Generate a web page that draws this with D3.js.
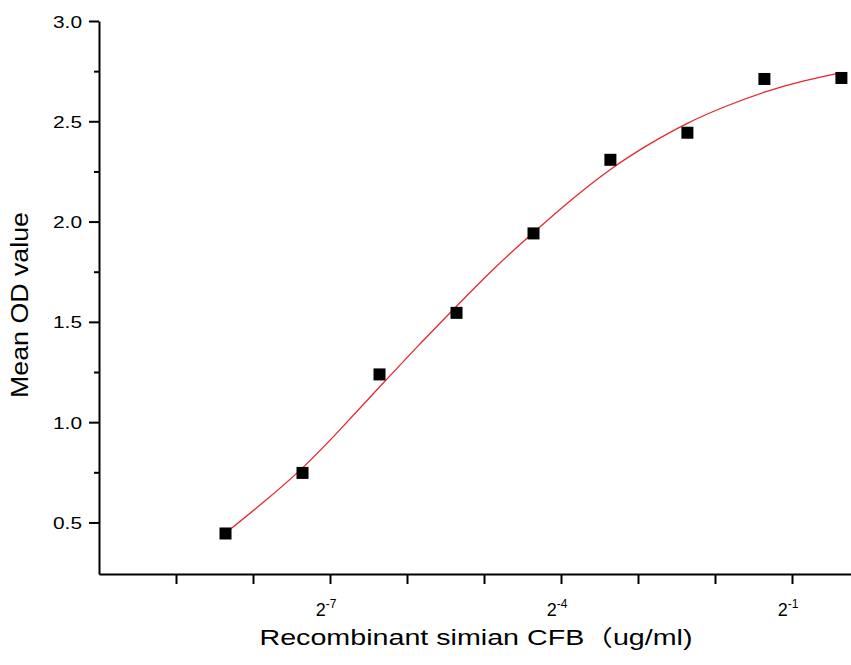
<!DOCTYPE html>
<html>
<head>
<meta charset="utf-8">
<script src="https://cdn.jsdelivr.net/npm/d3@7"></script>
<style>
  body { margin: 0; background: #fff; }
  svg { display: block; font-family: "Liberation Sans", Arial, "Noto Sans CJK SC", sans-serif; }
  .axis path, .axis line { stroke: #000; stroke-width: 2; }
</style>
</head>
<body>
<svg width="851" height="665"></svg>
<script>
// measured concentrations (ug/ml) and mean OD
const concentrations = [0.00305, 0.0061, 0.0122, 0.0244, 0.0488, 0.0975, 0.195, 0.39, 0.78];
const meanOD = [0.445, 0.747, 1.238, 1.545, 1.941, 2.308, 2.443, 2.711, 2.716];

// fitted curve
const curveConc = [0.00305, 0.00431, 0.0061, 0.00862, 0.0122, 0.0172, 0.0244, 0.0345, 0.0488,
                   0.0689, 0.0975, 0.138, 0.195, 0.276, 0.39, 0.552, 0.78];
const curveOD = [0.447, 0.603, 0.772, 0.968, 1.175, 1.378, 1.578, 1.77, 1.945,
                 2.11, 2.26, 2.385, 2.49, 2.575, 2.645, 2.70, 2.743];

const xTickExps = [-9, -8, -7, -6, -5, -4, -3, -2, -1];
const xLabelExps = [-7, -4, -1];
const yTicks = [0.5, 1.0, 1.5, 2.0, 2.5, 3.0];
const yMinorTicks = [0.75, 1.25, 1.75, 2.25, 2.75];

const svg = d3.select('svg');

const x = d3.scaleLog().base(2)
    .domain([Math.pow(2, -10), 1])
    .range([99, 869]);
const y = d3.scaleLinear()
    .domain([0.243, 3.0])
    .range([574, 21]);

// y axis
const yAxis = svg.append('g')
    .attr('class', 'axis')
    .attr('transform', 'translate(99,0)')
    .call(d3.axisLeft(y).tickValues(yTicks).tickSize(10).tickSizeOuter(0)
        .tickFormat(d3.format('.1f')));
yAxis.selectAll('text')
    .attr('x', -17)
    .attr('dy', '0.36em')
    .attr('textLength', 29)
    .attr('lengthAdjust', 'spacingAndGlyphs')
    .style('font-size', '17px')
    .attr('fill', '#000');

svg.append('g')
    .attr('class', 'axis')
    .attr('transform', 'translate(99,0)')
    .call(d3.axisLeft(y).tickValues(yMinorTicks).tickSize(5).tickFormat(''))
    .select('.domain').remove();

// x axis
svg.append('g')
    .attr('class', 'axis')
    .attr('transform', 'translate(0,574)')
    .call(d3.axisBottom(x).tickValues(xTickExps.map(e => Math.pow(2, e)))
        .tickSize(10).tickSizeOuter(0).tickFormat(''));

// x tick labels as powers of two
const xLabels = svg.append('g')
    .selectAll('text')
    .data(xLabelExps)
    .enter().append('text')
    .attr('x', d => x(Math.pow(2, d)) - 4)
    .attr('y', 616)
    .attr('text-anchor', 'middle');
xLabels.append('tspan')
    .style('font-size', '18px')
    .text('2');
xLabels.append('tspan')
    .attr('dy', -8)
    .style('font-size', '12px')
    .text(d => d);

// axis titles
svg.append('text')
    .attr('transform', 'translate(28,305) rotate(-90)')
    .attr('text-anchor', 'middle')
    .attr('textLength', 186)
    .attr('lengthAdjust', 'spacingAndGlyphs')
    .style('font-size', '23px')
    .text('Mean OD value');

svg.append('text')
    .attr('x', 476)
    .attr('y', 645)
    .attr('text-anchor', 'middle')
    .attr('textLength', 433)
    .attr('lengthAdjust', 'spacingAndGlyphs')
    .style('font-size', '22px')
    .text('Recombinant simian CFB（ug/ml)');

// fitted curve
const line = d3.line()
    .x(d => x(d[0]))
    .y(d => y(d[1]))
    .curve(d3.curveNatural);

svg.append('path')
    .datum(d3.zip(curveConc, curveOD))
    .attr('d', line)
    .attr('fill', 'none')
    .attr('stroke', '#e8262b')
    .attr('stroke-width', 1.3);

// data points
const size = 12;
svg.append('g')
    .selectAll('rect')
    .data(d3.zip(concentrations, meanOD))
    .enter().append('rect')
    .attr('x', d => x(d[0]) - size / 2)
    .attr('y', d => y(d[1]) - size / 2)
    .attr('width', size)
    .attr('height', size)
    .attr('fill', '#000');
</script>
</body>
</html>
